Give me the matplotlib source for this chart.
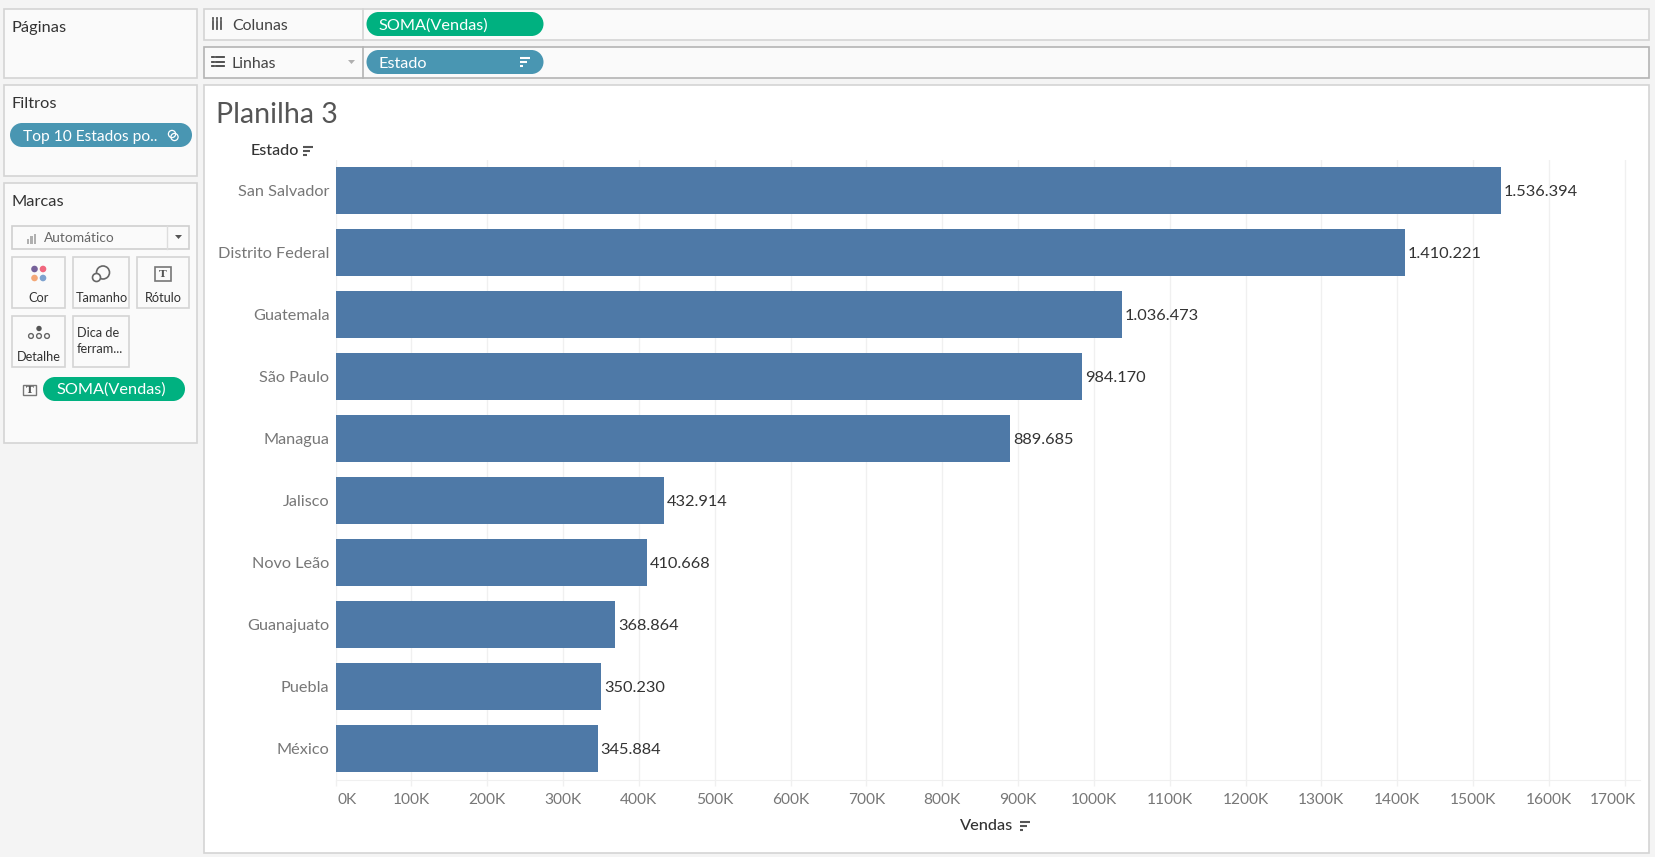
import matplotlib
matplotlib.use("Agg")
import matplotlib.pyplot as plt
from matplotlib.patches import Rectangle, Circle, Polygon
from matplotlib.transforms import ScaledTranslation

plt.rcParams['font.family'] = ['Lato', 'DejaVu Sans']

estados = ["San Salvador", "Distrito Federal", "Guatemala", "São Paulo", "Managua",
           "Jalisco", "Novo Leão", "Guanajuato", "Puebla", "México"]
vendas = [1536394, 1410221, 1036473, 984170, 889685, 432914, 410668, 368864, 350230, 345884]
rotulos = ["1.536.394", "1.410.221", "1.036.473", "984.170", "889.685",
           "432.914", "410.668", "368.864", "350.230", "345.884"]
ticks = [i * 100000 for i in range(18)]
tick_labels = [f"{i * 100}K" for i in range(18)]

W, H = 1656, 857
BG = "#f4f4f4"
PANEL = "#fafafa"
EDGE = "#d4d4d4"
GREEN = "#00b180"
BLUE = "#4996b2"
BAR = "#4e79a7"
GREY = "#777777"
DARK = "#333333"


def box(ax, x0, y0, x1, y1, fc=PANEL, ec=EDGE, lw=1.2):
    ax.add_patch(Rectangle((x0, y0), x1 - x0, y1 - y0, fc=fc, ec=ec, lw=lw))


def pill(ax, x0, y0, x1, y1, color):
    r = (y1 - y0) / 2
    ax.add_patch(Rectangle((x0 + r, y0), x1 - x0 - 2 * r, y1 - y0, fc=color, ec="none"))
    ax.add_patch(Circle((x0 + r, y0 + r), r, fc=color, ec="none"))
    ax.add_patch(Circle((x1 - r, y0 + r), r, fc=color, ec="none"))


def sort_icon(ax, x, y, color=DARK, w=10, lw=1.5):
    for k, frac in enumerate([1.0, 0.7, 0.35]):
        ax.plot([x, x + w * frac], [y + k * 4 - 4, y + k * 4 - 4], color=color, lw=lw, solid_capstyle="butt")


def t_icon(ax, x0, y0, x1, y1, lw=1.2):
    box(ax, x0, y0, x1, y1, fc="none", ec="#777777", lw=lw)
    ax.text((x0 + x1) / 2, (y0 + y1) / 2 + 0.3, "T", fontsize=7.5, ha="center", va="center",
            color="#555555", family="DejaVu Serif", fontweight="bold")


fig = plt.figure(figsize=(W / 100, H / 100), dpi=100, facecolor=BG)

# interface around the chart, in pixels
ui = fig.add_axes([0, 0, 1, 1], zorder=0)
ui.set_xlim(0, W)
ui.set_ylim(H, 0)
ui.axis("off")

box(ui, 4.5, 8.5, 197.5, 77.5)
box(ui, 4.5, 84.5, 197.5, 175.5)
box(ui, 4.5, 182.5, 197.5, 442.5)
box(ui, 204.5, 8.5, 1649.5, 39.5)
box(ui, 204.5, 46.5, 1649.5, 77.5, ec="#b4b4b4")
ui.plot([363.5, 363.5], [8.5, 39.5], color=EDGE, lw=1.2)
ui.plot([363.5, 363.5], [46.5, 77.5], color="#b4b4b4", lw=1.2)
box(ui, 204.5, 84.5, 1649.5, 853, fc="white")

ui.text(12, 27.5, "Páginas", fontsize=11.8, color=DARK, va="center")
ui.text(12, 103.5, "Filtros", fontsize=11.8, color=DARK, va="center")
ui.text(12, 201.5, "Marcas", fontsize=11.8, color=DARK, va="center")
ui.text(232, 25.5, "Colunas", fontsize=11.4, color="#444444", va="center")
ui.text(232, 63.5, "Linhas", fontsize=11.4, color="#444444", va="center")

# shelf icons
for dx in [213.5, 217.5, 221.5]:
    ui.plot([dx, dx], [21, 29], color="#555555", lw=1.3)
    ui.plot([dx, dx], [18, 19.2], color="#555555", lw=1.3)
for yy in [57, 61.5, 66]:
    ui.plot([212, 214.5], [yy, yy], color="#444444", lw=1.3)
    ui.plot([216, 224], [yy, yy], color="#444444", lw=1.3)
ui.add_patch(Polygon([[348, 60], [355, 60], [351.5, 64]], fc="#b0b0b0", ec="none"))

pill(ui, 366.5, 12, 543.5, 36, GREEN)
ui.text(379, 25.5, "SOMA(Vendas)", fontsize=11.7, color="white", va="center")
pill(ui, 366.5, 50, 543.5, 74, BLUE)
ui.text(379, 63.5, "Estado", fontsize=11.7, color="white", va="center")
sort_icon(ui, 520, 62, color="white")

pill(ui, 10, 123, 192, 147, BLUE)
ui.text(23.5, 136.5, "Top 10 Estados po..", fontsize=11.2, color="white", va="center")
ui.add_patch(Circle((172, 134), 3.6, fc="none", ec="white", lw=0.9))
ui.add_patch(Circle((174.5, 137), 3.6, fc="none", ec="white", lw=0.9))

# marks card
box(ui, 12.5, 225.5, 189.5, 248.5, fc="#fafafa", ec="#cfcfcf")
ui.plot([167.5, 167.5], [225.5, 248.5], color="#dddddd", lw=1)
for bx, by in [(27, 5), (30.5, 8), (34, 10)]:
    ui.add_patch(Rectangle((bx, 243.5 - by), 2.2, by, fc="#b0b0b0", ec="none"))
ui.text(43.5, 237.5, "Automático", fontsize=9.9, color="#666666", va="center")
ui.add_patch(Polygon([[175, 235], [182, 235], [178.5, 239]], fc="#555555", ec="none"))

for x0, y0, x1, y1 in [(12.5, 256.5, 65.5, 307.5), (73.5, 256.5, 129.5, 307.5), (137.5, 256.5, 189.5, 307.5),
                       (12.5, 315.5, 65.5, 366.5), (73.5, 315.5, 129.5, 366.5)]:
    box(ui, x0, y0, x1, y1)
for txt, cx, cy in [("Cor", 39, 298), ("Tamanho", 101.5, 298), ("Rótulo", 163, 298), ("Detalhe", 39, 357)]:
    ui.text(cx, cy, txt, fontsize=9.2, color=DARK, ha="center", va="center")
ui.text(77, 333, "Dica de", fontsize=9.2, color=DARK, va="center")
ui.text(77, 349, "ferram...", fontsize=9.2, color=DARK, va="center")

for cx, cy, c in [(34.5, 269, "#76619a"), (43, 269, "#f0677e"), (34.5, 278, "#f4a877"), (43, 278, "#7da2cf")]:
    ui.add_patch(Circle((cx, cy), 3.3, fc=c, ec="none"))
ui.add_patch(Circle((103, 272.5), 6.5, fc="none", ec="#666666", lw=1.2))
ui.add_patch(Circle((96.5, 277.5), 4, fc="white", ec="#666666", lw=1.2))
t_icon(ui, 155, 267, 171, 281)
ui.add_patch(Circle((39, 328.5), 2.7, fc="#555555", ec="none"))
for cx in [31, 39, 47]:
    ui.add_patch(Circle((cx, 336), 2.4, fc="none", ec="#666666", lw=1))

t_icon(ui, 23.5, 385, 36, 394.5, lw=1)
pill(ui, 43, 377, 185, 401, GREEN)
ui.text(111, 390, "SOMA(Vendas)", fontsize=11.7, color="white", ha="center", va="center")

ui.text(216, 115, "Planilha 3", fontsize=20.5, color="#555555", va="center")
ui.text(299.5, 150.5, "Estado", fontsize=11.6, color=DARK, ha="right", va="center", fontweight="medium")
sort_icon(ui, 303.5, 150.5, color="#555555")
ui.text(987, 826, "Vendas", fontsize=11.8, color=DARK, ha="center", va="center", fontweight="medium")
sort_icon(ui, 1020, 825.5, color="#555555")

# the chart itself
ax = fig.add_axes([335.5 / W, 1 - 779.5 / H, (1639.5 - 335.5) / W, (779.5 - 159.5) / H], zorder=1)
ax.patch.set_alpha(0)
y = list(range(len(estados)))
ax.barh(y, vendas, height=47 / 62, color=BAR, zorder=2)
ax.set_xlim(0, (1640 - 336) / 75.84 * 100000)
ax.set_ylim(9.492, -0.508)
ax.set_yticks(y)
ax.set_yticklabels(estados, fontsize=11.7, color=GREY)
ax.set_xticks(ticks)
ax.set_xticklabels(tick_labels, fontsize=11.2, color=GREY)
ax.tick_params(axis="y", length=0, pad=4.5)
ax.tick_params(axis="x", length=4, width=1, color="#f0f0f0", pad=5.5)
ax.grid(axis="x", color="#f0f0f0", lw=1, zorder=0)
ax.set_axisbelow(True)
for side in ["top", "right", "left"]:
    ax.spines[side].set_visible(False)
ax.spines["bottom"].set_color("#f0f0f0")

# first and last tick labels stay inside the plot width
labels = ax.get_xticklabels()
labels[0].set_ha("left")
labels[0].set_transform(labels[0].get_transform() + ScaledTranslation(1.7 / 100, 0, fig.dpi_scale_trans))
labels[-1].set_ha("right")
labels[-1].set_transform(labels[-1].get_transform() + ScaledTranslation(11 / 100, 0, fig.dpi_scale_trans))

for i, (v, r) in enumerate(zip(vendas, rotulos)):
    ax.annotate(r, (v, i), xytext=(2, -0.5), textcoords="offset points", va="center", ha="left",
                fontsize=11.8, color=DARK, zorder=3)

fig.savefig("out.png", dpi=100, facecolor=BG)
